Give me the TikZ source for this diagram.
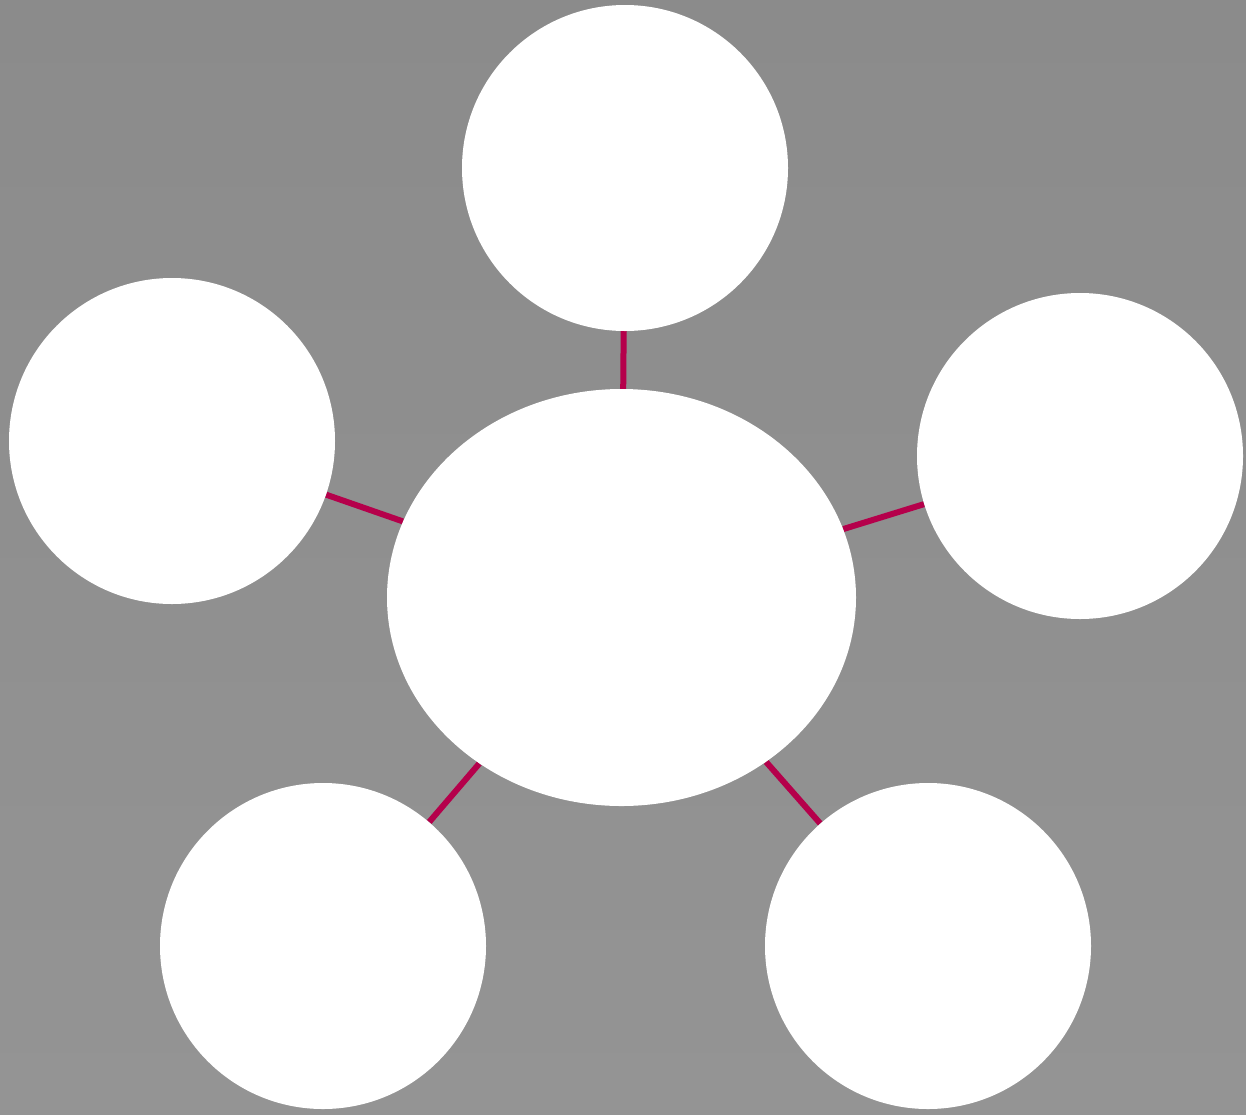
\documentclass[tikz,border=0pt]{standalone}
\usetikzlibrary{shapes.geometric,backgrounds}
\pgfdeclarelayer{paper}
\pgfsetlayers{paper,background,main}
\definecolor{bggrey}{HTML}{8B8B8B}
\definecolor{bggreylow}{HTML}{949494}
\definecolor{linkcol}{HTML}{B5004B}
\tikzset{
  bubble/.style={circle, fill=white, draw=none, inner sep=0pt, minimum size=326pt},
  hub/.style={ellipse, fill=white, draw=none, inner sep=0pt, minimum width=469pt, minimum height=417pt},
  link/.style={draw=linkcol, line width=6pt}
}
\begin{document}
\begin{tikzpicture}[x=1pt,y=-1pt]
\begin{pgfonlayer}{paper}
\shade[top color=bggrey, bottom color=bggreylow] (0,0) rectangle (1246,1114);
\end{pgfonlayer}
\useasboundingbox (0,0) rectangle (1246,1114);
\node[hub] (c) at (621.5,597.5) {};
\node[bubble] (t) at (625,168) {};
\node[bubble] (l) at (172,441) {};
\node[bubble] (r) at (1080,456) {};
\node[bubble] (bl) at (323,946) {};
\node[bubble] (br) at (928,946) {};
\begin{pgfonlayer}{background}
\draw[link] (c) -- (t);
\draw[link] (c) -- (l);
\draw[link] (c) -- (r);
\draw[link] (c) -- (bl);
\draw[link] (c) -- (br);
\end{pgfonlayer}
\end{tikzpicture}
\end{document}
